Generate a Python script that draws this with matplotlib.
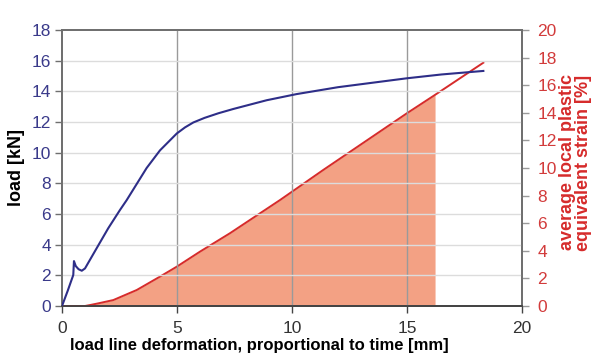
import matplotlib.pyplot as plt
import numpy as np

plt.rcParams["font.family"] = ["Liberation Sans", "DejaVu Sans"]

# load curve (left axis)
load_x = [0, 0.25, 0.49, 0.52, 0.6, 0.72, 0.86, 1.0, 1.5, 2.01, 2.52, 2.81,
          3.10, 3.68, 4.26, 4.99, 5.35, 5.71, 6.2, 6.8, 7.45, 8.9, 10.2,
          12.0, 14.99, 16.5, 18.32]
load_kn = [0, 1.0, 2.02, 2.93, 2.6, 2.4, 2.3, 2.45, 3.75, 5.07, 6.26, 6.9,
           7.6, 9.0, 10.15, 11.25, 11.65, 11.97, 12.27, 12.57, 12.85, 13.42,
           13.82, 14.27, 14.85, 15.1, 15.33]

# average local plastic equivalent strain (right axis)
strain_x = [0, 1.0, 1.22, 1.6, 2.23, 3.25, 4.26, 4.99, 6.0, 7.3, 9.48,
            11.36, 14.99, 16.22, 18.32]
strain_pct = [0, 0, 0.07, 0.2, 0.43, 1.16, 2.13, 2.85, 3.94, 5.27, 7.68,
              9.86, 13.96, 15.3, 17.63]
fill_end = 16.22

blue = "#2e2e88"
red = "#d62b2b"
salmon = "#f3a184"

fig = plt.figure(figsize=(6.0, 3.61), dpi=100)
ax = fig.add_axes([62 / 600, 1 - 306 / 361, 460 / 600, 276 / 361])
ax2 = ax.twinx()

ax.set_xlim(0, 20)
ax.set_ylim(0, 18)
ax2.set_ylim(0, 20)
ax.set_xticks(range(0, 21, 5))
ax.set_yticks(range(0, 19, 2))
ax2.set_yticks(range(0, 21, 2))

# grid: dark vertical lines, light horizontal ones
for xv in (5, 10, 15):
    ax.axvline(xv, color="#9a9a9a", lw=1.0, zorder=0)
for yv in range(2, 18, 2):
    ax.axhline(yv, color="#dcdcdc", lw=1.0, zorder=0)

sx = np.array(strain_x)
sy = np.array(strain_pct)
mask = sx <= fill_end
ax2.fill_between(sx[mask], 0, sy[mask], color=salmon, lw=0, zorder=1)
ax2.plot(sx, sy, color=red, lw=1.4, zorder=3)

ax.plot(load_x, load_kn, color=blue, lw=1.5, zorder=4)
ax.set_zorder(ax2.get_zorder() + 1)
ax.patch.set_visible(False)

for a in (ax, ax2):
    for side in ("left", "right", "top"):
        a.spines[side].set_color("#6f6f6f")
        a.spines[side].set_linewidth(1.3)
    a.spines["bottom"].set_color("#444444")
    a.spines["bottom"].set_linewidth(1.3)

ax.tick_params(axis="x", length=5, width=1, color="#444444", labelsize=12.5,
               labelcolor="#333333", pad=6)
ax.tick_params(axis="y", length=5, width=1, color="#6f6f6f", labelsize=12.5,
               labelcolor="#3a3a8a", pad=3)
ax2.tick_params(axis="y", length=5, width=1, color="#9a9a9a", labelsize=12.5,
                labelcolor="#d23b3b", pad=6)

ax.set_xlabel("load line deformation, proportional to time [mm]",
              fontsize=12, fontweight="bold")
ax.xaxis.set_label_coords(0.43, -0.115)
ax.set_ylabel("load [kN]", fontsize=13, fontweight="bold", labelpad=5)
ax2.set_ylabel("average local plastic\nequivalent strain [%]", fontsize=13,
               fontweight="bold", color=red, linespacing=0.95)
ax2.yaxis.set_label_coords(1.08, 0.52)

fig.savefig("out.png", dpi=100, facecolor="white")
